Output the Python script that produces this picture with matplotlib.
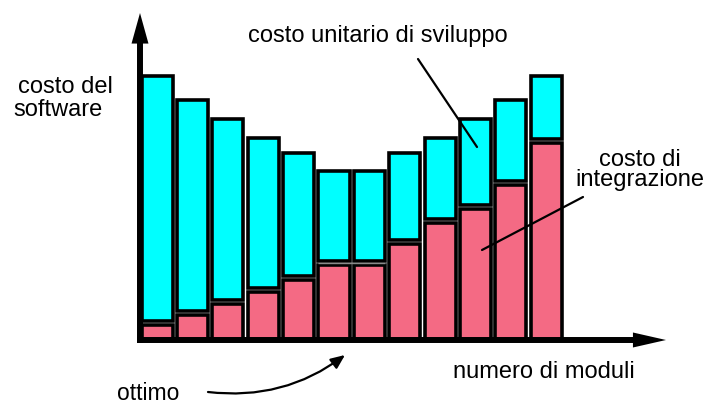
import numpy as np
import matplotlib
matplotlib.use("Agg")
import matplotlib.pyplot as plt

# reference size in pixels
W, H = 710, 405

moduli = np.arange(1, 13)
costo_integrazione = [1.5, 2.5, 3.6, 4.8, 6.0, 7.5, 7.5, 9.6, 11.7, 13.1, 15.5, 19.7]
costo_sviluppo = [24.9, 21.5, 18.5, 15.4, 12.7, 9.4, 9.4, 9.1, 8.5, 9.0, 8.5, 6.7]

CYAN = "#00FFFF"
PINK = "#F46A84"
BAR_WIDTH = 0.88
GAP = 0.38  # black band between the two stacked pieces
EDGE = 2.6
FONTSIZE = 17

plt.rcParams["font.family"] = ["Liberation Sans", "DejaVu Sans"]


def fig_xy(x, y):
    # pixel position (top-left origin) -> figure fraction
    return x / W, 1 - y / H


def main():
    fig = plt.figure(figsize=(W / 100, H / 100), dpi=100)
    ax = fig.add_axes([0, 0, 1, 1])
    ax.set_xlim(-3.444, 16.629)
    ax.set_ylim(-6.5, 34)
    ax.axis("off")

    integ = np.array(costo_integrazione)
    svil = np.array(costo_sviluppo)

    ax.bar(moduli, integ, width=BAR_WIDTH, color=PINK,
           edgecolor="black", linewidth=EDGE, zorder=2)
    ax.bar(moduli, svil - GAP, bottom=integ + GAP, width=BAR_WIDTH, color=CYAN,
           edgecolor="black", linewidth=EDGE, zorder=2)

    # thin grey line left over between the two optimum bars
    ax.hlines(integ[5] + GAP / 2, moduli[5] - BAR_WIDTH / 2, moduli[6] + BAR_WIDTH / 2,
              color="#8a8a8a", linewidth=1, zorder=3)

    # axes with arrow heads
    x_left = moduli[0] - 0.57
    ax.annotate("", xy=(15.385, 0), xytext=(x_left, 0),
                arrowprops=dict(arrowstyle="simple,head_length=23.8,head_width=10.8,tail_width=4.3",
                                mutation_scale=1, fc="black", ec="none",
                                shrinkA=0, shrinkB=0), zorder=4, annotation_clip=False)
    ax.annotate("", xy=(0.514, 32.7), xytext=(0.514, -0.3),
                arrowprops=dict(arrowstyle="simple,head_length=22,head_width=12.2,tail_width=4.3",
                                mutation_scale=1, fc="black", ec="none",
                                shrinkA=0, shrinkB=0), zorder=4, annotation_clip=False)

    # labels
    fig.text(*fig_xy(18, 93), "costo del", fontsize=FONTSIZE, va="baseline", ha="left")
    fig.text(*fig_xy(13, 116), "software", fontsize=FONTSIZE, va="baseline", ha="left")
    fig.text(*fig_xy(248, 42), "costo unitario di sviluppo", fontsize=FONTSIZE,
             va="baseline", ha="left")
    fig.text(*fig_xy(640, 166), "costo di", fontsize=FONTSIZE, va="baseline", ha="center")
    fig.text(*fig_xy(640, 186), "integrazione", fontsize=FONTSIZE, va="baseline", ha="center")
    fig.text(*fig_xy(453, 378), "numero di moduli", fontsize=FONTSIZE, va="baseline", ha="left")
    fig.text(*fig_xy(117, 400), "ottimo", fontsize=FONTSIZE - 0.5, va="baseline", ha="left")

    # leader lines
    line = dict(arrowstyle="-", color="black", lw=1.6, shrinkA=0, shrinkB=0)
    ax.annotate("", xy=fig_xy(477, 147), xytext=fig_xy(418, 59),
                xycoords="figure fraction", arrowprops=line)
    ax.annotate("", xy=fig_xy(482, 250), xytext=fig_xy(583, 197),
                xycoords="figure fraction", arrowprops=line)

    # curved arrow pointing at the optimum
    ax.annotate("", xy=fig_xy(345, 355), xytext=fig_xy(208, 392),
                xycoords="figure fraction",
                arrowprops=dict(arrowstyle="-|>,head_length=0.7,head_width=0.3",
                                mutation_scale=12, lw=1.6, color="black",
                                connectionstyle="arc3,rad=0.2",
                                shrinkA=0, shrinkB=0))

    fig.savefig("out.png", dpi=100)


if __name__ == "__main__":
    main()
